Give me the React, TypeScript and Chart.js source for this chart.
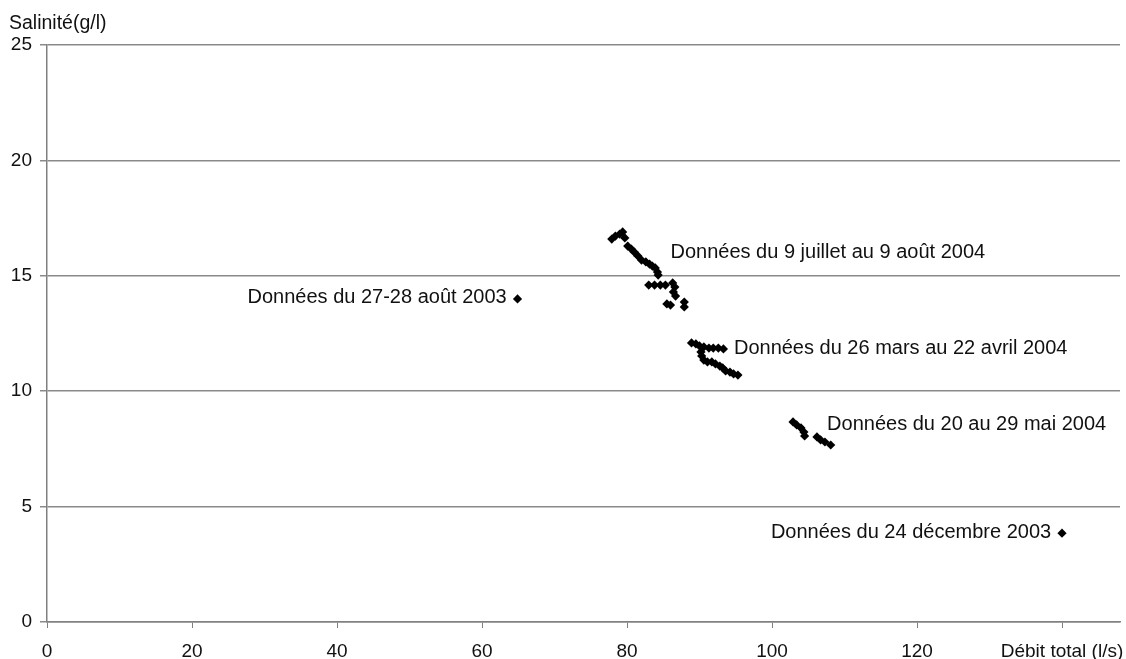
import React, { useEffect, useRef } from "react";
import { Chart, registerables } from "chart.js";

Chart.register(...registerables);

// Débit total (l/s) / Salinité (g/l)
const julAugX = [77.9, 78.4, 79.0, 79.4, 79.7, 80.1, 80.6, 81.0, 81.5, 82.0, 82.6, 83.1, 83.5, 83.9, 84.2, 84.3, 83.0, 83.8, 84.6, 85.3, 86.3, 86.6, 86.4, 86.7, 85.5, 86.0, 87.9, 87.9];
const julAugY = [16.59, 16.72, 16.81, 16.9, 16.64, 16.29, 16.16, 16.03, 15.86, 15.68, 15.6, 15.51, 15.42, 15.34, 15.16, 15.03, 14.6, 14.6, 14.6, 14.6, 14.69, 14.51, 14.3, 14.12, 13.78, 13.73, 13.86, 13.65];

const marAprX = [88.9, 89.5, 90.0, 90.6, 91.3, 91.9, 92.6, 93.3, 90.2, 90.3, 90.6, 91.1, 91.7, 92.2, 92.8, 93.2, 93.6, 94.2, 94.7, 95.3];
const marAprY = [12.09, 12.05, 11.96, 11.92, 11.87, 11.87, 11.87, 11.83, 11.7, 11.53, 11.35, 11.27, 11.27, 11.18, 11.09, 11.01, 10.88, 10.83, 10.75, 10.7];

const mayX = [102.9, 103.4, 104.0, 104.4, 104.5, 106.2, 106.7, 107.3, 108.1];
const mayY = [8.67, 8.54, 8.41, 8.23, 8.06, 8.02, 7.89, 7.8, 7.67];

const aug2003X = [64.9];
const aug2003Y = [14.0];

const dec2003X = [140];
const dec2003Y = [3.85];

const xTicks = [0, 20, 40, 60, 80, 100, 120, 140];
const xTickLabels = ["0", "20", "40", "60", "80", "100", "120", "Débit total (l/s)"];
const yTitle = "Salinité(g/l)";

const annotTexts = [
  "Données du 9 juillet au 9 août 2004",
  "Données du 27-28 août 2003",
  "Données du 26 mars au 22 avril 2004",
  "Données du 20 au 29 mai 2004",
  "Données du 24 décembre 2003",
];
const annotX = [86.0, 63.4, 94.75, 107.6, 138.5];
const annotY = [16.0, 14.04, 11.87, 8.54, 3.86];
const annotAlign = ["left", "right", "left", "left", "right"];

const FONT = "'Liberation Sans', Arial, sans-serif";

function zip(xs: number[], ys: number[]) {
  return xs.map((x, i) => ({ x, y: ys[i] }));
}

const annotPlugin = {
  id: "annot",
  afterDraw(chart: any) {
    const ctx = chart.ctx;
    const xs = chart.scales.x;
    const ys = chart.scales.y;
    ctx.save();
    ctx.fillStyle = "#111";
    ctx.font = `20px ${FONT}`;
    ctx.textBaseline = "middle";
    annotTexts.forEach((t, i) => {
      ctx.textAlign = annotAlign[i];
      ctx.fillText(t, xs.getPixelForValue(annotX[i]), ys.getPixelForValue(annotY[i]));
    });
    ctx.font = `19.5px ${FONT}`;
    ctx.textAlign = "left";
    ctx.textBaseline = "alphabetic";
    ctx.fillText(yTitle, chart.chartArea.left - 38, chart.chartArea.top - 16);
    ctx.restore();
  },
};

export default function App() {
  const ref = useRef<HTMLCanvasElement>(null);
  useEffect(() => {
    const data = [
      ...zip(julAugX, julAugY),
      ...zip(marAprX, marAprY),
      ...zip(mayX, mayY),
      ...zip(aug2003X, aug2003Y),
      ...zip(dec2003X, dec2003Y),
    ];
    const chart = new Chart(ref.current!, {
      type: "scatter",
      data: {
        datasets: [
          {
            data,
            pointStyle: "rectRot",
            pointRadius: 4.6,
            pointBackgroundColor: "#000",
            pointBorderColor: "#000",
            pointBorderWidth: 0,
          },
        ],
      },
      options: {
        animation: false,
        responsive: false,
        layout: { padding: { top: 45, right: 6, left: 0, bottom: 0 } },
        plugins: { legend: { display: false }, tooltip: { enabled: false }, title: { display: false } },
        scales: {
          x: {
            type: "linear",
            min: 0,
            max: 148,
            afterFit: (s: any) => {
              s.height = 37;
              s.paddingLeft = 0;
              s.paddingRight = 0;
            },
            afterBuildTicks: (s: any) => {
              s.ticks = xTicks.map((v) => ({ value: v }));
            },
            ticks: {
              callback: (v: any) => {
                const i = xTicks.indexOf(Number(v));
                return i >= 0 ? xTickLabels[i] : "";
              },
              font: { family: FONT, size: 19 },
              color: "#111",
              padding: 12,
              maxRotation: 0,
              autoSkip: false,
            },
            grid: { drawOnChartArea: false, drawTicks: true, tickLength: 6, color: "#808080", lineWidth: 1 },
            border: { color: "#808080", width: 1.5 },
          },
          y: {
            min: 0,
            max: 25,
            afterFit: (s: any) => {
              s.width = 47;
            },
            ticks: {
              stepSize: 5,
              font: { family: FONT, size: 19 },
              color: "#111",
              padding: 8,
            },
            grid: { color: "#8a8a8a", lineWidth: 1.5, tickLength: 7 },
            border: { color: "#808080", width: 1.5 },
          },
        },
      },
      plugins: [annotPlugin],
    });
    return () => chart.destroy();
  }, []);
  return (
    <div style={{ position: "fixed", left: 0, top: 0, width: 1126, height: 659, background: "#fff" }}>
      <canvas ref={ref} width={1126} height={659} />
    </div>
  );
}
